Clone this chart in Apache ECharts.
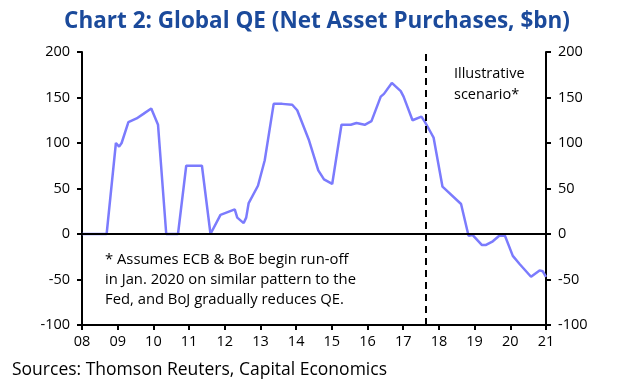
<!DOCTYPE html>
<html>
<head>
<meta charset="utf-8">
<script src="https://cdn.jsdelivr.net/npm/echarts@6/dist/echarts.min.js"></script>
<style>
html,body{margin:0;padding:0;background:#fff;}
#chart{width:634px;height:385px;}
</style>
</head>
<body>
<div id="chart"></div>
<script>
// Time (fractional year) and net asset purchases ($bn)
const dates = [2008.0, 2008.69, 2008.95, 2009.04, 2009.11, 2009.30, 2009.53, 2009.72, 2009.94, 2010.13,
  2010.36, 2010.69, 2010.92, 2011.36, 2011.60, 2011.88, 2012.28, 2012.35, 2012.53, 2012.60,
  2012.67, 2012.93, 2013.12, 2013.37, 2013.61, 2013.89, 2014.03, 2014.36, 2014.62, 2014.78,
  2015.01, 2015.27, 2015.53, 2015.69, 2015.92, 2016.11, 2016.37, 2016.46, 2016.68, 2016.93,
  2017.01, 2017.26, 2017.51, 2017.61, 2017.78, 2017.85, 2018.10, 2018.62, 2018.83, 2018.94,
  2019.20, 2019.32, 2019.51, 2019.69, 2019.85, 2020.07, 2020.26, 2020.58, 2020.82, 2020.91, 2021.0];
const values = [0, 0, 100, 96, 100, 123, 127, 132, 138, 120,
  0, 0, 75, 75, 0, 21, 27, 18, 12, 18,
  34, 53, 81, 143, 143, 142, 136, 103, 70, 60,
  55, 120, 120, 122, 120, 124, 151, 154, 166, 157,
  151, 125, 129, 123, 111, 106, 52, 33, -2, -1,
  -12, -12, -8, -2, -2, -24, -33, -47, -40, -41, -47];
const xTickLabels = ['08','09','10','11','12','13','14','15','16','17','18','19','20','21'];
const yTicks = [-100, -50, 0, 50, 100, 150, 200];
const scenarioStart = 2017.63;

const chart = echarts.init(document.getElementById('chart'));
const font = '"Open Sans", "DejaVu Sans", sans-serif';
const yAxisBase = {
  type: 'value', min: yTicks[0], max: yTicks[yTicks.length-1], interval: 50,
  splitLine: {show: false},
  axisLine: {show: true, lineStyle: {color: '#000', width: 2}},
  axisTick: {show: true, length: 5, lineStyle: {color: '#000', width: 2}},
  axisLabel: {color: '#000', fontSize: 14.5, fontFamily: font, margin: 12}
};
chart.setOption({
  animation: false,
  title: {
    text: 'Chart 2: Global QE (Net Asset Purchases, $bn)',
    left: 'center', top: 5,
    textStyle: {color: '#1b4a9b', fontSize: 22.5, fontWeight: 'bold', fontFamily: font}
  },
  grid: {left: 82, right: 88, top: 52, bottom: 60},
  xAxis: {
    type: 'value', min: 2008, max: 2021, interval: 1,
    splitLine: {show: false},
    axisLine: {show: true, onZero: false, lineStyle: {color: '#000', width: 2}},
    axisTick: {show: true, length: 5, lineStyle: {color: '#000', width: 2}},
    axisLabel: {color: '#000', fontSize: 14.5, fontFamily: font, margin: 9,
      formatter: v => xTickLabels[Math.round(v - 2008)]}
  },
  yAxis: [
    Object.assign({}, yAxisBase, {position: 'left'}),
    Object.assign({}, yAxisBase, {position: 'right'})
  ],
  series: [{
    type: 'line',
    data: dates.map((d, i) => [d, values[i]]),
    showSymbol: false,
    lineStyle: {color: '#7b7bfd', width: 2.5},
    z: 3,
    markLine: {
      silent: true, symbol: 'none', label: {show: false},
      data: [
        {yAxis: 0, lineStyle: {color: '#000', width: 2, type: 'solid'}},
        {xAxis: scenarioStart, lineStyle: {color: '#000', width: 2, type: [7, 5]}}
      ]
    }
  }],
  graphic: [
    {type: 'text', left: 454, top: 63, style: {text: 'Illustrative\nscenario*', fill: '#000', font: '14.5px ' + font, lineHeight: 21}},
    {type: 'text', left: 105, top: 250, style: {text: '* Assumes ECB & BoE begin run-off\nin Jan. 2020 on similar pattern to the\nFed, and BoJ gradually reduces QE.', fill: '#000', font: '14.8px ' + font, lineHeight: 20}},
    {type: 'text', left: 12, top: 361, style: {text: 'Sources: Thomson Reuters, Capital Economics', fill: '#000', font: '17.5px ' + font}}
  ]
});
</script>
</body>
</html>
